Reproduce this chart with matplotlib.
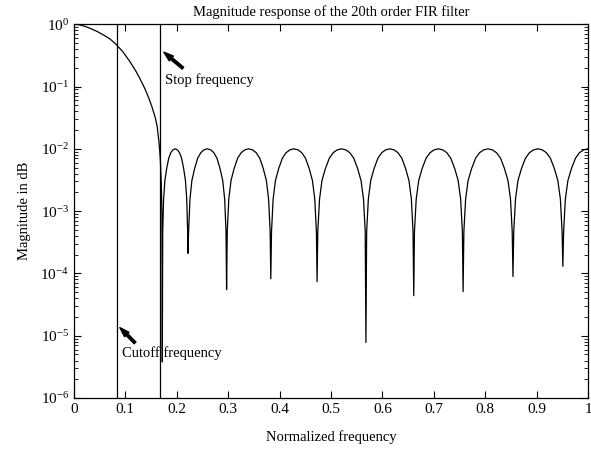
import matplotlib
matplotlib.use("Agg")
import matplotlib.pyplot as plt
from matplotlib.ticker import LogLocator, NullFormatter

plt.rcParams['font.family'] = ['Liberation Serif', 'DejaVu Serif']
plt.rcParams['mathtext.fontset'] = 'custom'
plt.rcParams['mathtext.rm'] = 'Liberation Serif'
plt.rcParams['mathtext.it'] = 'Liberation Serif:italic'

# Passband + transition
pass_f = [0.0, 0.010, 0.020, 0.031, 0.045, 0.057, 0.070, 0.083, 0.096, 0.109,
          0.120, 0.128, 0.137, 0.145, 0.152, 0.158, 0.162, 0.166, 0.168, 0.170, 0.1712]
pass_m = [1.0, 0.982, 0.933, 0.863, 0.767, 0.676, 0.582, 0.468, 0.355, 0.251,
          0.180, 0.136, 0.0966, 0.0676, 0.0468, 0.0324, 0.0229, 0.0117, 0.0071, 0.0028, 0.0009]

# Stopband nulls (frequency, depth)
null_f = [0.172, 0.222, 0.297, 0.383, 0.473, 0.568, 0.661, 0.757, 0.854, 0.951]
null_m = [3.8e-6, 2.1e-4, 5.5e-5, 8.2e-5, 7.4e-5, 7.8e-6, 4.4e-5, 5.1e-5, 8.9e-5, 1.3e-4]

# Ripple lobe samples between consecutive nulls
lobe_m = [4.7e-4, 1.56e-3, 3.09e-3, 4.82e-3, 7.07e-3, 8.66e-3, 9.61e-3, 1.0e-2,
          9.61e-3, 8.66e-3, 7.07e-3, 4.82e-3, 3.09e-3, 1.56e-3, 4.7e-4]
lobe_f = [
    [0.1728, 0.1745, 0.177, 0.1805, 0.1845, 0.1885, 0.1925, 0.197, 0.2015, 0.2055, 0.2095, 0.2135, 0.217, 0.2195, 0.2213],
    [0.2231, 0.2258, 0.2295, 0.2348, 0.2408, 0.2468, 0.2528, 0.2595, 0.2663, 0.2723, 0.2783, 0.2843, 0.2895, 0.2933, 0.2959],
    [0.2983, 0.3013, 0.3056, 0.3116, 0.3185, 0.3254, 0.3323, 0.340, 0.3477, 0.3546, 0.3615, 0.3684, 0.3744, 0.3787, 0.3817],
    [0.3844, 0.3875, 0.392, 0.3983, 0.4055, 0.4127, 0.4199, 0.428, 0.4361, 0.4433, 0.4505, 0.4577, 0.464, 0.4685, 0.4717],
    [0.4744, 0.4778, 0.4825, 0.4892, 0.4968, 0.5044, 0.5120, 0.5205, 0.5291, 0.5367, 0.5443, 0.5519, 0.5585, 0.5633, 0.5666],
    [0.5694, 0.5727, 0.5773, 0.5838, 0.5913, 0.5987, 0.6061, 0.6145, 0.6229, 0.6303, 0.6378, 0.6452, 0.6517, 0.6564, 0.6596],
    [0.6624, 0.6658, 0.6706, 0.6773, 0.685, 0.6927, 0.7004, 0.709, 0.7176, 0.7253, 0.733, 0.7407, 0.7474, 0.7522, 0.7556],
    [0.7585, 0.7619, 0.7667, 0.7735, 0.7813, 0.789, 0.7968, 0.8055, 0.8142, 0.822, 0.8298, 0.8375, 0.8443, 0.8492, 0.8525],
    [0.8555, 0.8589, 0.8637, 0.8705, 0.8783, 0.886, 0.8938, 0.9025, 0.9112, 0.919, 0.9268, 0.9345, 0.9413, 0.9462, 0.9495],
]
tail_f = [0.9525, 0.9559, 0.9608, 0.9677, 0.9755, 0.9833, 0.9912, 1.0]
tail_m = [4.7e-4, 1.56e-3, 3.09e-3, 4.82e-3, 7.07e-3, 8.66e-3, 9.61e-3, 1.0e-2]

cutoff_freq = 0.0833
stop_freq = 0.1667

xtick_vals = [0, 0.1, 0.2, 0.3, 0.4, 0.5, 0.6, 0.7, 0.8, 0.9, 1.0]
xtick_labels = ['0', '0.1', '0.2', '0.3', '0.4', '0.5', '0.6', '0.7', '0.8', '0.9', '1']
ytick_vals = [1e-6, 1e-5, 1e-4, 1e-3, 1e-2, 1e-1, 1e0]
ytick_labels = ['$10^{-6}$', '$10^{-5}$', '$10^{-4}$', '$10^{-3}$', '$10^{-2}$', '$10^{-1}$', '$10^{0}$']

# assemble curve
f = list(pass_f)
m = list(pass_m)
for i, lf in enumerate(lobe_f):
    f.append(null_f[i]); m.append(null_m[i])
    f.extend(lf); m.extend(lobe_m)
f.append(null_f[-1]); m.append(null_m[-1])
f.extend(tail_f); m.extend(tail_m)

fig = plt.figure(figsize=(5.91, 4.57), dpi=100)
ax = fig.add_axes([0.125, 0.129, 0.870, 0.818])
ax.plot(f, m, color='black', linewidth=0.9)
ax.axvline(cutoff_freq, color='black', linewidth=0.9)
ax.axvline(stop_freq, color='black', linewidth=0.9)

ax.set_yscale('log')
ax.set_xlim(0, 1)
ax.set_ylim(1e-6, 1)
ax.set_xticks(xtick_vals)
ax.set_xticklabels(xtick_labels)
ax.set_yticks(ytick_vals)
ax.set_yticklabels(ytick_labels)
ax.yaxis.set_minor_locator(LogLocator(base=10, subs=range(2, 10), numticks=20))
ax.yaxis.set_minor_formatter(NullFormatter())
ax.tick_params(which='both', direction='in', top=True, right=True, labelsize=11)
ax.tick_params(which='major', length=5, width=0.8)
ax.tick_params(which='minor', length=3, width=0.6)
for s in ax.spines.values():
    s.set_linewidth(0.9)

ax.set_title('Magnitude response of the 20th order FIR filter', fontsize=10.5, pad=6)
ax.set_xlabel('Normalized frequency', fontsize=10.5, labelpad=10)
ax.set_ylabel('Magnitude in dB', fontsize=10.5, labelpad=7)

arrow = dict(arrowstyle='simple,head_width=0.45,head_length=0.7,tail_width=0.18',
             color='black', shrinkA=0, shrinkB=0)
ax.annotate('', xy=(0.175, 0.356), xytext=(0.212, 0.197), arrowprops=arrow)
ax.text(0.177, 0.127, 'Stop frequency', fontsize=10.5, va='center', ha='left')
ax.annotate('', xy=(0.0895, 1.35e-5), xytext=(0.119, 7.7e-6), arrowprops=arrow)
ax.text(0.093, 5.3e-6, 'Cutoff frequency', fontsize=10.5, va='center', ha='left')

fig.savefig('out.png', dpi=100)
